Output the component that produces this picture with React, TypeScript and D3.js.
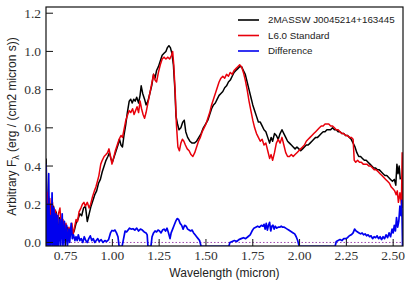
import React from "react";
import * as d3 from "d3";

const objWave = [0.646,0.650,0.654,0.659,0.664,0.670,0.678,0.686,0.692,0.700,0.710,0.718,0.728,0.738,0.748,0.758,0.766,0.776,0.786,0.796,0.806,0.816,0.826,0.836,0.846,0.856,0.866,0.876,0.886,0.896,0.906,0.916,0.926,0.936,0.946,0.956,0.966,0.976,0.984,0.992,1.000,1.010,1.020,1.030,1.038,1.046,1.054,1.062,1.072,1.080,1.090,1.098,1.106,1.114,1.122,1.130,1.140,1.148,1.154,1.162,1.172,1.180,1.190,1.200,1.210,1.220,1.228,1.236,1.246,1.256,1.266,1.276,1.286,1.294,1.302,1.310,1.318,1.326,1.334,1.340,1.348,1.356,1.366,1.376,1.384,1.392,1.402,1.414,1.426,1.438,1.450,1.462,1.474,1.486,1.498,1.510,1.520,1.530,1.540,1.550,1.560,1.570,1.580,1.590,1.600,1.610,1.620,1.630,1.640,1.650,1.660,1.670,1.680,1.690,1.700,1.710,1.720,1.730,1.740,1.750,1.760,1.770,1.780,1.790,1.800,1.810,1.820,1.830,1.840,1.848,1.856,1.866,1.876,1.886,1.896,1.906,1.916,1.926,1.936,1.946,1.956,1.966,1.976,1.986,1.996,2.006,2.016,2.026,2.036,2.046,2.056,2.066,2.076,2.086,2.096,2.106,2.116,2.126,2.136,2.146,2.156,2.166,2.176,2.186,2.196,2.206,2.216,2.226,2.236,2.246,2.256,2.266,2.276,2.286,2.296,2.306,2.316,2.326,2.336,2.346,2.356,2.366,2.376,2.386,2.396,2.406,2.416,2.426,2.436,2.446,2.456,2.466,2.476,2.486,2.496,2.506,2.514,2.520,2.526,2.532,2.538];
const objFlux = [0.44,0.28,0.12,0.24,0.08,0.20,0.10,0.19,0.06,0.16,0.05,0.13,0.04,0.10,0.05,0.08,0.03,0.07,0.04,0.06,0.10,0.12,0.15,0.14,0.18,0.19,0.11,0.15,0.19,0.22,0.25,0.27,0.31,0.33,0.37,0.40,0.43,0.45,0.47,0.44,0.42,0.45,0.48,0.51,0.54,0.51,0.50,0.56,0.62,0.68,0.74,0.75,0.73,0.75,0.74,0.76,0.73,0.77,0.82,0.78,0.75,0.72,0.74,0.78,0.82,0.88,0.86,0.90,0.92,0.95,0.98,0.99,1.00,1.02,1.03,1.02,0.99,0.93,0.80,0.66,0.62,0.59,0.60,0.63,0.64,0.58,0.55,0.53,0.52,0.52,0.53,0.55,0.57,0.60,0.62,0.64,0.67,0.70,0.72,0.73,0.75,0.77,0.78,0.79,0.81,0.82,0.84,0.85,0.87,0.89,0.90,0.91,0.92,0.92,0.90,0.88,0.84,0.80,0.76,0.72,0.69,0.66,0.63,0.63,0.61,0.59,0.58,0.55,0.52,0.55,0.53,0.57,0.56,0.54,0.57,0.59,0.57,0.55,0.53,0.52,0.51,0.50,0.49,0.50,0.49,0.48,0.49,0.50,0.51,0.51,0.52,0.53,0.54,0.55,0.55,0.56,0.57,0.58,0.58,0.59,0.59,0.59,0.60,0.59,0.59,0.58,0.58,0.57,0.57,0.56,0.56,0.55,0.54,0.52,0.50,0.47,0.45,0.45,0.44,0.43,0.43,0.42,0.41,0.40,0.39,0.39,0.38,0.38,0.37,0.36,0.35,0.35,0.34,0.33,0.32,0.33,0.30,0.41,0.36,0.40,0.33];

const stdWave = [0.646,0.650,0.655,0.660,0.666,0.672,0.680,0.688,0.696,0.704,0.712,0.720,0.728,0.736,0.744,0.752,0.760,0.768,0.776,0.784,0.790,0.798,0.806,0.814,0.822,0.832,0.840,0.848,0.856,0.866,0.876,0.884,0.894,0.904,0.912,0.920,0.928,0.938,0.946,0.956,0.966,0.974,0.982,0.990,0.998,1.006,1.016,1.026,1.036,1.046,1.054,1.064,1.072,1.082,1.090,1.098,1.108,1.116,1.124,1.132,1.140,1.148,1.156,1.164,1.172,1.180,1.188,1.196,1.204,1.212,1.220,1.228,1.236,1.246,1.256,1.266,1.276,1.286,1.296,1.306,1.316,1.322,1.328,1.336,1.342,1.350,1.358,1.366,1.374,1.382,1.390,1.400,1.410,1.420,1.430,1.440,1.450,1.460,1.470,1.480,1.490,1.500,1.510,1.520,1.530,1.540,1.550,1.560,1.570,1.580,1.590,1.600,1.610,1.620,1.630,1.640,1.650,1.660,1.670,1.680,1.690,1.700,1.710,1.720,1.730,1.740,1.750,1.760,1.770,1.780,1.790,1.800,1.810,1.820,1.830,1.840,1.848,1.856,1.866,1.876,1.886,1.896,1.906,1.916,1.926,1.936,1.946,1.956,1.966,1.976,1.986,1.996,2.006,2.016,2.026,2.036,2.046,2.056,2.066,2.076,2.086,2.096,2.106,2.116,2.126,2.136,2.146,2.156,2.166,2.176,2.186,2.196,2.206,2.216,2.226,2.236,2.246,2.256,2.266,2.276,2.286,2.292,2.300,2.310,2.320,2.330,2.340,2.350,2.360,2.370,2.380,2.390,2.400,2.410,2.420,2.430,2.440,2.450,2.460,2.470,2.480,2.490,2.500,2.508,2.516,2.522,2.528,2.536,2.544,2.548,2.552];
const stdFlux = [0.40,0.10,0.26,0.12,0.23,0.06,0.21,0.09,0.17,0.05,0.15,0.18,0.07,0.12,0.06,0.10,0.04,0.08,0.05,0.10,0.04,0.08,0.12,0.11,0.16,0.18,0.20,0.21,0.19,0.21,0.18,0.20,0.24,0.27,0.29,0.32,0.35,0.41,0.43,0.45,0.46,0.47,0.49,0.45,0.41,0.44,0.48,0.51,0.54,0.56,0.55,0.60,0.64,0.67,0.69,0.68,0.70,0.67,0.69,0.71,0.68,0.74,0.70,0.67,0.65,0.68,0.72,0.76,0.80,0.84,0.88,0.85,0.84,0.89,0.93,0.96,0.97,0.96,0.97,0.96,0.98,1.00,0.93,0.78,0.62,0.50,0.48,0.52,0.54,0.53,0.51,0.49,0.48,0.46,0.45,0.47,0.50,0.53,0.55,0.58,0.60,0.62,0.65,0.68,0.72,0.75,0.78,0.81,0.84,0.86,0.87,0.86,0.88,0.87,0.89,0.88,0.90,0.91,0.92,0.93,0.92,0.89,0.85,0.80,0.74,0.69,0.64,0.60,0.57,0.55,0.53,0.54,0.51,0.52,0.48,0.44,0.46,0.43,0.47,0.52,0.54,0.52,0.55,0.51,0.47,0.45,0.45,0.46,0.45,0.46,0.47,0.48,0.49,0.50,0.51,0.53,0.54,0.55,0.56,0.57,0.58,0.59,0.60,0.61,0.61,0.62,0.62,0.62,0.61,0.61,0.60,0.59,0.59,0.58,0.57,0.57,0.56,0.56,0.55,0.55,0.54,0.43,0.42,0.43,0.42,0.42,0.41,0.41,0.41,0.40,0.40,0.39,0.38,0.38,0.37,0.36,0.35,0.34,0.33,0.32,0.31,0.29,0.28,0.27,0.25,0.27,0.21,0.26,0.20,0.47,0.18];

const diffWave = [0.646,0.648,0.652,0.656,0.660,0.664,0.668,0.672,0.678,0.682,0.688,0.692,0.698,0.702,0.708,0.712,0.720,0.724,0.732,0.736,0.744,0.748,0.756,0.760,0.768,0.772,0.780,0.786,0.792,0.800,0.806,0.812,0.818,0.826,0.834,0.842,0.850,0.858,0.866,0.874,0.882,0.890,0.898,0.906,0.914,0.922,0.930,0.940,0.950,0.960,0.970,0.980,0.990,0.998,1.006,1.014,1.022,1.030,1.036,1.052,1.060,1.068,1.076,1.084,1.092,1.100,1.110,1.120,1.130,1.140,1.150,1.160,1.170,1.180,1.186,1.190,1.206,1.212,1.220,1.228,1.236,1.244,1.252,1.260,1.268,1.276,1.284,1.292,1.300,1.308,1.314,1.322,1.330,1.338,1.346,1.354,1.362,1.370,1.378,1.386,1.394,1.402,1.410,1.418,1.426,1.434,1.442,1.450,1.458,1.466,1.474,1.622,1.628,1.640,1.652,1.664,1.676,1.688,1.700,1.712,1.724,1.736,1.746,1.756,1.766,1.776,1.786,1.796,1.804,1.810,1.816,1.822,1.828,1.834,1.840,1.846,1.852,1.858,1.864,1.870,1.878,1.886,1.894,1.902,1.910,1.918,1.926,1.934,1.942,1.950,1.958,1.966,1.974,1.982,1.990,1.998,2.190,2.196,2.206,2.216,2.226,2.236,2.246,2.256,2.266,2.276,2.286,2.294,2.302,2.310,2.318,2.326,2.334,2.342,2.350,2.358,2.366,2.374,2.382,2.390,2.398,2.406,2.414,2.422,2.430,2.438,2.446,2.454,2.462,2.470,2.478,2.486,2.494,2.500,2.506,2.512,2.518,2.524,2.530,2.536,2.542,2.546,2.550];
const diffFlux = [0.41,-0.03,0.20,-0.03,0.36,-0.03,0.14,-0.03,0.26,-0.03,0.18,-0.03,0.15,-0.03,0.14,-0.03,0.12,-0.02,0.15,-0.02,0.11,-0.02,0.09,-0.02,0.07,0.00,0.10,0.02,0.04,0.01,0.03,0.01,0.04,0.01,0.02,0.00,0.03,0.01,0.00,0.02,0.035,0.01,0.02,0.00,0.01,0.02,0.005,0.015,0.00,0.01,0.005,0.015,0.05,0.063,0.06,0.065,0.05,0.03,-0.02,-0.02,0.02,0.06,0.055,0.065,0.075,0.07,0.072,0.065,0.075,0.06,0.07,0.065,0.055,0.05,0.04,-0.02,-0.02,0.03,0.05,0.06,0.055,0.065,0.06,0.05,0.065,0.07,0.06,0.075,0.05,0.02,0.05,0.07,0.09,0.11,0.125,0.12,0.10,0.09,0.07,0.09,0.085,0.07,0.065,0.06,0.065,0.05,0.04,0.03,0.02,0.01,-0.02,-0.02,0.0,0.005,0.01,0.005,0.015,0.02,0.025,0.02,0.03,0.04,0.06,0.075,0.08,0.085,0.08,0.09,0.085,0.095,0.07,0.10,0.065,0.09,0.105,0.06,0.085,0.09,0.07,0.085,0.075,0.08,0.08,0.085,0.08,0.08,0.075,0.07,0.065,0.06,0.055,0.05,0.045,0.03,0.01,-0.02,-0.02,0.005,0.01,0.015,0.01,0.02,0.02,0.025,0.035,0.04,0.05,0.07,0.06,0.055,0.05,0.045,0.05,0.04,0.045,0.035,0.04,0.03,0.035,0.02,0.03,0.025,0.035,0.02,0.03,0.015,0.03,0.02,0.04,0.025,0.05,0.03,0.07,0.05,0.09,0.06,0.13,0.08,0.11,0.19,0.14,0.22,-0.02];

const xTicks = [0.75, 1.0, 1.25, 1.5, 1.75, 2.0, 2.25, 2.5];
const yTicks = [0.0, 0.2, 0.4, 0.6, 0.8, 1.0, 1.2];
const legendLabels = ["2MASSW J0045214+163445", "L6.0 Standard", "Difference"];
const seriesColors = ["#000000", "#e8000b", "#0000ee"];

const W = 411, H = 288;
const L = 46, R = 403, T = 7, B = 246;

export default function App() {
  const x = d3.scaleLinear().domain([0.6455, 2.5525]).range([L, R]);
  const y = d3.scaleLinear().domain([-0.0185, 1.2325]).range([B, T]);
  const mk = (ws: number[], fs: number[]) =>
    d3.line<number>().x((_, i) => x(ws[i])).y((d) => y(d))(fs) || "";
  const serifF = "'Liberation Serif', 'DejaVu Serif', serif";
  const sansF = "'Liberation Sans', 'DejaVu Sans', sans-serif";
  return (
    <svg width={W} height={H} style={{ position: "absolute", left: 0, top: 0, background: "#fff" }}>
      <defs>
        <clipPath id="plotclip">
          <rect x={L} y={T} width={R - L} height={B - T} />
        </clipPath>
      </defs>
      <rect x={0} y={0} width={W} height={H} fill="#fff" />
      <g clipPath="url(#plotclip)" fill="none" strokeLinejoin="round">
        <path d={mk(objWave, objFlux)} stroke={seriesColors[0]} strokeWidth={1.5} />
        <path d={mk(stdWave, stdFlux)} stroke={seriesColors[1]} strokeWidth={1.5} />
        <line x1={L} x2={R} y1={y(0)} y2={y(0)} stroke="#a04ab0" strokeWidth={1} strokeDasharray="1.5,2" />
        <path d={mk(diffWave, diffFlux)} stroke={seriesColors[2]} strokeWidth={1.7} />
      </g>
      <rect x={L} y={T} width={R - L} height={B - T} fill="none" stroke="#111" strokeWidth={1.2} />
      {yTicks.map((t) => (
        <g key={"y" + t}>
          <line x1={L} x2={L + 7} y1={y(t)} y2={y(t)} stroke="#111" strokeWidth={1} />
          <text x={L - 5} y={y(t)} dy="0.33em" textAnchor="end" fontFamily={serifF} fontSize={13.5} fill="#333">
            {t.toFixed(1)}
          </text>
        </g>
      ))}
      {xTicks.map((t) => (
        <g key={"x" + t}>
          <line x1={x(t)} x2={x(t)} y1={B} y2={B - 7} stroke="#111" strokeWidth={1} />
          <text x={x(t)} y={B + 14} textAnchor="middle" fontFamily={serifF} fontSize={13.5} fill="#333">
            {t.toFixed(2)}
          </text>
        </g>
      ))}
      <text x={(L + R) / 2} y={277} textAnchor="middle" fontFamily={sansF} fontSize={12} fill="#222">
        Wavelength (micron)
      </text>
      <text transform={`translate(16,${(T + B) / 2}) rotate(-90)`} textAnchor="middle" fontFamily={sansF} fontSize={12} fill="#222">
        Arbitrary F<tspan dy={3} fontSize={9}>λ</tspan><tspan dy={-3}> (erg / (cm2 micron s))</tspan>
      </text>
      {legendLabels.map((lab, i) => (
        <g key={lab}>
          <line x1={238} x2={259} y1={20 + i * 15.5} y2={20 + i * 15.5} stroke={seriesColors[i]} strokeWidth={1.6} />
          <text x={268} y={20 + i * 15.5} dy="0.35em" fontFamily={sansF} fontSize={9.8} fill="#222">
            {lab}
          </text>
        </g>
      ))}
    </svg>
  );
}
